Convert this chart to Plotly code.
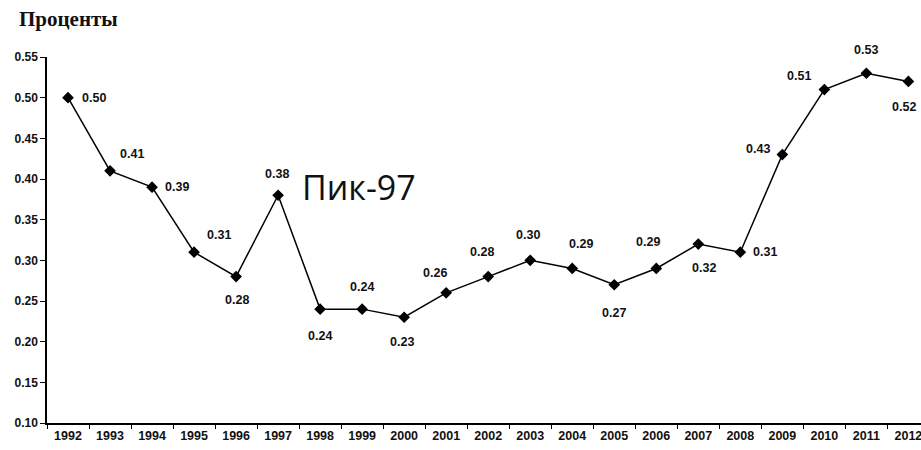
import plotly.graph_objects as go

years = [str(y) for y in range(1992, 2013)]
values = [0.50, 0.41, 0.39, 0.31, 0.28, 0.38, 0.24, 0.24, 0.23, 0.26, 0.28,
          0.30, 0.29, 0.27, 0.29, 0.32, 0.31, 0.43, 0.51, 0.53, 0.52]
y_ticks = [0.10, 0.15, 0.20, 0.25, 0.30, 0.35, 0.40, 0.45, 0.50, 0.55]

# label offsets in pixels (style only): (dx right, dy down)
label_offsets = [(26, 0), (22, -17), (25, 0), (25, -17), (1, 23), (-1, -21),
                 (0, 27), (0, -22), (-2, 25), (-11, -20), (-6, -25), (-2, -25),
                 (9, -24), (0, 28), (-8, -26), (6, 24), (25, 0), (-24, -6),
                 (-25, -14), (0, -23), (-4, 26)]

fig = go.Figure()
fig.add_trace(go.Scatter(
    x=years, y=values, mode="lines+markers",
    line=dict(color="black", width=1.5),
    marker=dict(symbol="diamond", size=9, color="black"),
    hoverinfo="x+y", showlegend=False,
))

for i, (v, (dx, dy)) in enumerate(zip(values, label_offsets)):
    fig.add_annotation(x=i, y=v, text=f"<b>{v:.2f}</b>", showarrow=False,
                       xshift=dx, yshift=-dy,
                       font=dict(family="Liberation Sans, Arial", size=12.5,
                                 color="#111"))

fig.add_annotation(x=years.index("1997"), y=0.38, text="Пик-97", showarrow=False,
                   xanchor="left", yanchor="middle", xshift=22, yshift=8,
                   font=dict(family="Open Sans", size=34, color="#111"))

fig.add_annotation(xref="paper", yref="paper", x=0, y=1.0, xshift=-30, yshift=24,
                   xanchor="left", yanchor="bottom", text="<b>Проценты</b>",
                   showarrow=False,
                   font=dict(family="Liberation Serif", size=21, color="#111"))

fig.update_xaxes(type="category", range=[-0.5, 20.3], tickson="boundaries",
                 ticks="outside", ticklen=4, tickcolor="black",
                 showline=True, linecolor="black", linewidth=1.5,
                 showgrid=False, zeroline=False, automargin=False,
                 tickfont=dict(family="Liberation Sans, Arial", size=12.5,
                               color="#111", weight="bold"))
fig.update_yaxes(range=[0.10, 0.55], tickvals=y_ticks,
                 ticktext=[f"{t:.2f}" for t in y_ticks],
                 ticks="outside", ticklen=5, tickcolor="black",
                 showline=True, linecolor="black", linewidth=1.5,
                 showgrid=False, zeroline=False, automargin=False,
                 tickfont=dict(family="Liberation Sans, Arial", size=12,
                               color="#111", weight="bold"))

fig.update_layout(width=921, height=450,
                  margin=dict(l=47, r=0, t=57, b=27),
                  plot_bgcolor="white", paper_bgcolor="white")

fig.write_html("out.html", config={"displayModeBar": False},
               post_script="document.body.style.margin='0px';")
